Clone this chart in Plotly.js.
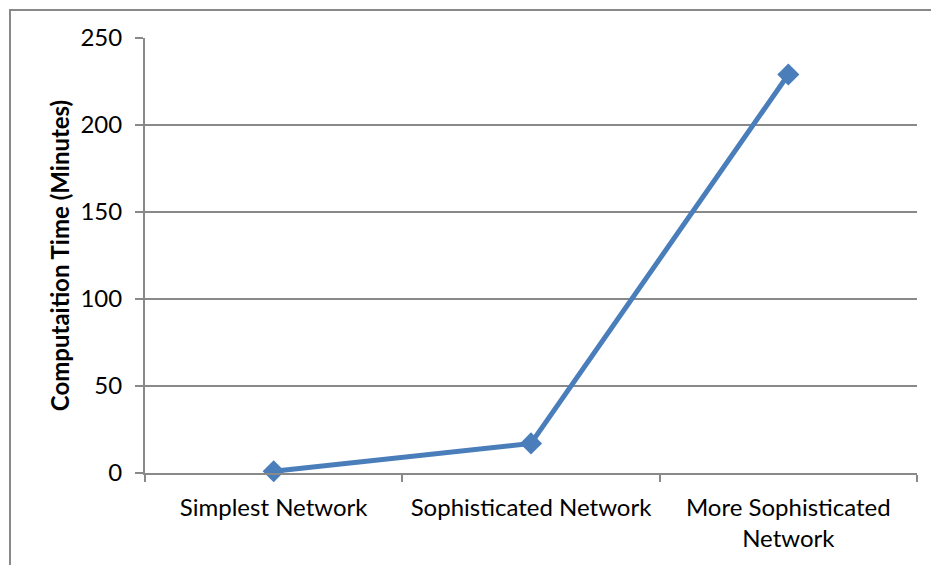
<!DOCTYPE html>
<html>
<head>
<meta charset="utf-8">
<script src="https://cdn.plot.ly/plotly-3.0.1.min.js"></script>
<style>
  html, body { margin: 0; padding: 0; background: #fff; overflow: hidden; }
  #frame { position: absolute; left: 9px; top: 9px; width: 1000px; height: 1000px; border: 2px solid #898989; box-sizing: border-box; }
  #chart { position: absolute; left: 0; top: 0; width: 931px; height: 565px; }
</style>
</head>
<body>
<div id="frame"></div>
<div id="chart"></div>
<script>
const categories = ["Simplest Network", "Sophisticated Network", "More Sophisticated<br>Network"];
const computationMinutes = [1, 17, 229];
const yTickValues = [0, 50, 100, 150, 200, 250];
const yTitle = "Computaition Time (Minutes)";

const FONT = "Lato, 'Open Sans', sans-serif";

const trace = {
  type: "scatter",
  mode: "lines+markers",
  x: categories,
  y: computationMinutes,
  line: { color: "#4A7EBB", width: 5 },
  marker: { symbol: "diamond", size: 17, color: "#4A7EBB" },
  cliponaxis: false,
  hoverinfo: "skip"
};

const layout = {
  width: 931,
  height: 565,
  margin: { l: 145, r: 14, t: 38, b: 92 },
  paper_bgcolor: "rgba(0,0,0,0)",
  plot_bgcolor: "rgba(0,0,0,0)",
  showlegend: false,
  font: { family: FONT, size: 24, color: "#000" },
  xaxis: {
    type: "category",
    range: [-0.5, 2.5],
    tickson: "boundaries",
    ticks: "outside",
    ticklen: 7,
    tickwidth: 2,
    tickcolor: "#898989",
    showline: true,
    linecolor: "#898989",
    linewidth: 2,
    showgrid: false,
    zeroline: false,
    tickfont: { size: 24, family: FONT, color: "#000" },
    ticklabelstandoff: 12,
    fixedrange: true
  },
  yaxis: {
    range: [0, 250],
    tickvals: yTickValues,
    ticktext: yTickValues.map(String),
    ticks: "outside",
    ticklen: 8,
    tickwidth: 2,
    tickcolor: "#898989",
    showline: true,
    linecolor: "#898989",
    linewidth: 2,
    showgrid: true,
    gridcolor: "#898989",
    gridwidth: 1.5,
    zeroline: false,
    tickfont: { size: 24, family: FONT, color: "#000" },
    ticklabelstandoff: 8,
    title: {
      text: yTitle,
      font: { size: 24, family: FONT, color: "#000", weight: "bold" },
      standoff: 4
    },
    fixedrange: true
  }
};

Plotly.newPlot("chart", [trace], layout, { displayModeBar: false, staticPlot: true });
</script>
</body>
</html>
